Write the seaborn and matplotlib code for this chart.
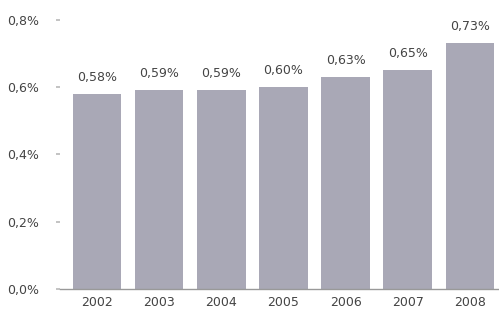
import matplotlib
matplotlib.use("Agg")
import matplotlib.pyplot as plt
import seaborn as sns
import pandas as pd

years = ["2002", "2003", "2004", "2005", "2006", "2007", "2008"]
values = [0.58, 0.59, 0.59, 0.60, 0.63, 0.65, 0.73]
labels = ["0,58%", "0,59%", "0,59%", "0,60%", "0,63%", "0,65%", "0,73%"]
yticks = [0.0, 0.2, 0.4, 0.6, 0.8]
ytick_labels = ["0,0%", "0,2%", "0,4%", "0,6%", "0,8%"]

df = pd.DataFrame({"year": years, "value": values})

sns.set_theme(style="white")
plt.rcParams['font.family'] = ['DejaVu Sans']

fig = plt.figure(figsize=(4.99, 3.31), dpi=100)
ax = fig.add_axes([0.12, 0.127, 0.88, 0.813])
sns.barplot(data=df, x="year", y="value", color="#a9a8b6", width=0.78,
            saturation=1, linewidth=0, ax=ax)

for i, (v, lab) in enumerate(zip(values, labels)):
    ax.text(i, v + 0.03, lab, ha="center", va="bottom", fontsize=9,
            color="#444444")

ax.set_ylim(0, 0.8)
ax.set_xlim(-0.6, 6.47)
ax.set_yticks(yticks)
ax.set_yticklabels(ytick_labels, fontsize=9, color="#444444")
ax.tick_params(axis="x", labelsize=9, colors="#444444", length=0, pad=5)
ax.tick_params(axis="y", length=3, color="#bbbbbb", pad=12, left=True)
ax.set_xlabel("")
ax.set_ylabel("")
for s in ["top", "right", "left"]:
    ax.spines[s].set_visible(False)
ax.spines["bottom"].set_color("#999999")
ax.spines["bottom"].set_linewidth(1.0)

fig.savefig("out.png", dpi=100)
